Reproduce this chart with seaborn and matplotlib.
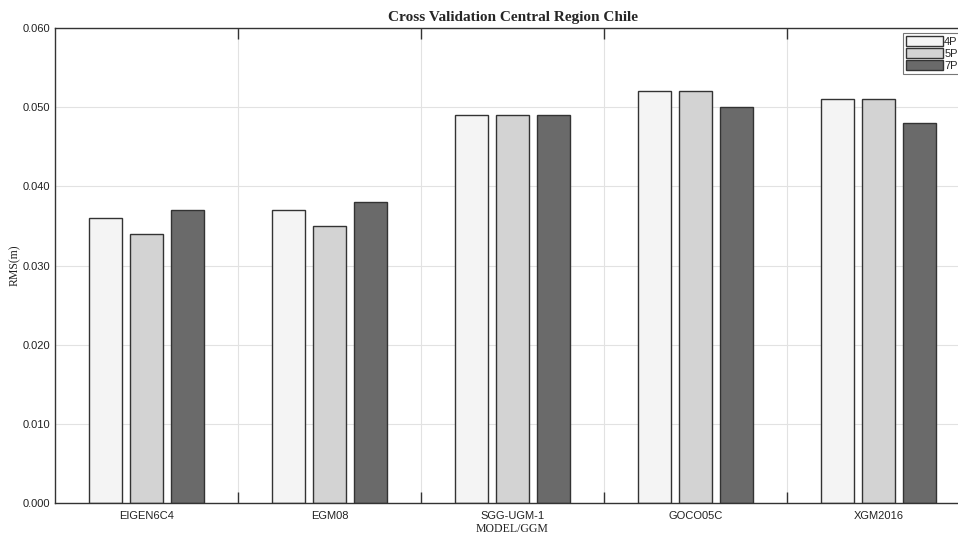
import matplotlib
matplotlib.use("Agg")
import matplotlib.pyplot as plt
import seaborn as sns
import pandas as pd
import numpy as np
from matplotlib.ticker import FixedLocator, FormatStrFormatter
from matplotlib.patches import Patch

models = ["EIGEN6C4", "EGM08", "SGG-UGM-1", "GOCO05C", "XGM2016"]
configs = ["4P", "5P", "7P"]
rms_4p = [0.036, 0.037, 0.049, 0.052, 0.051]
rms_5p = [0.034, 0.035, 0.049, 0.052, 0.051]
rms_7p = [0.037, 0.038, 0.049, 0.050, 0.048]
colors = ["#f4f4f4", "#d3d3d3", "#6a6a6a"]

df = pd.DataFrame({
    "model": models * 3,
    "rms": rms_4p + rms_5p + rms_7p,
    "config": [c for c in configs for _ in models],
})

sns.set_style("white")
plt.rcParams["font.family"] = ["Liberation Sans", "DejaVu Sans"]

fig = plt.figure(figsize=(9.58, 5.34), dpi=100)
ax = fig.add_axes([55 / 958, 31 / 534, 915 / 958, 475 / 534])

sns.barplot(data=df, x="model", y="rms", hue="config", order=models,
            hue_order=configs, palette=colors, width=0.672, gap=0.196,
            edgecolor="#333333", linewidth=1.0, ax=ax, legend=False,
            errorbar=None, saturation=1)

ax.set_xlim(-0.5, 4.5)
ax.set_ylim(0, 0.06)
ax.set_yticks(np.arange(0, 0.0601, 0.01))
ax.yaxis.set_major_formatter(FormatStrFormatter("%.3f"))

ax.set_xticks([0.5, 1.5, 2.5, 3.5])
ax.set_xticklabels([])
ax.xaxis.set_minor_locator(FixedLocator(range(len(models))))
ax.set_xticklabels(models, minor=True)
ax.tick_params(axis="x", which="minor", length=0, labelsize=8, pad=6, colors="#222222")
ax.tick_params(axis="x", which="major", direction="in", length=8, width=1.0,
               top=True, bottom=True, color="#333333")
ax.tick_params(axis="y", which="major", direction="in", length=8, width=1.0,
               labelsize=8, colors="#222222", right=False)

ax.grid(True, which="major", axis="both", color="#e2e2e2", linewidth=0.8)
ax.set_axisbelow(True)
for s in ["left", "top", "bottom", "right"]:
    ax.spines[s].set_visible(True)
    ax.spines[s].set_color("#333333")
    ax.spines[s].set_linewidth(1.0)

ax.set_xlabel("MODEL/GGM", family=["Liberation Serif"], fontsize=8.5, labelpad=1, color="#222222")
ax.set_ylabel("RMS(m)", family=["Liberation Serif"], fontsize=8.5, color="#222222")
ax.yaxis.set_label_coords(-34 / 915, 0.5)
ax.set_title("Cross Validation Central Region Chile", family=["Liberation Serif"],
             fontweight="bold", fontsize=11, pad=5)

handles = [Patch(facecolor=c, edgecolor="#333333", linewidth=1.0) for c in colors]
leg = ax.legend(handles, configs, loc="upper left",
                bbox_to_anchor=(903 / 958, 1 - 33 / 534), bbox_transform=fig.transFigure,
                fontsize=8, handlelength=3.3, handleheight=0.95, handletextpad=0.1,
                labelspacing=0.12, borderpad=0.3, frameon=True, fancybox=False,
                edgecolor="#555555", borderaxespad=0)
leg.get_frame().set_linewidth(0.8)

fig.savefig("out.png", dpi=100)
